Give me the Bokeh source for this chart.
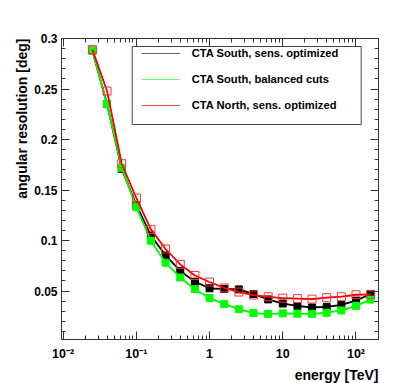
from bokeh.plotting import figure
from bokeh.models import (Range1d, FixedTicker, LogAxis, LinearAxis, Title,
                          Legend, LegendItem, BoxAnnotation)
from bokeh.embed import file_html
from bokeh.resources import INLINE

# ---- data ----
energy = [0.0251, 0.0398, 0.0631, 0.1, 0.158, 0.251, 0.398, 0.631, 1.0, 1.585,
          2.512, 3.98, 6.31, 10.0, 15.85, 25.1, 39.8, 63.1, 100.0, 158.5]
south_opt = [0.288, 0.235, 0.171, 0.135, 0.105, 0.0852, 0.0699, 0.0592, 0.0527, 0.052,
             0.0516, 0.047, 0.0417, 0.0376, 0.0352, 0.0337, 0.0343, 0.0363, 0.0405, 0.047]
south_bal = [0.288, 0.235, 0.172, 0.133, 0.0997, 0.078, 0.0634, 0.0518, 0.043, 0.0372,
             0.032, 0.0282, 0.0272, 0.0279, 0.0276, 0.0274, 0.0285, 0.0308, 0.0353, 0.0415]
north_opt = [0.289, 0.248, 0.176, 0.142, 0.111, 0.0916, 0.0764, 0.0654, 0.0589, 0.053,
             0.049, 0.046, 0.0443, 0.043, 0.0425, 0.042, 0.0434, 0.0444, 0.0463, 0.0467]
legend_labels = ["CTA South, sens. optimized", "CTA South, balanced cuts",
                 "CTA North, sens. optimized"]
x_ticks = [0.01, 0.1, 1, 10, 100]
x_tick_labels = ["10\u207b\u00b2", "10\u207b\u00b9", "1", "10", "10\u00b2"]
y_ticks = [0.05, 0.1, 0.15, 0.2, 0.25, 0.3]
y_tick_labels = ["0.05", "0.1", "0.15", "0.2", "0.25", "0.3"]
x_title = "energy [TeV]"
y_title = "angular resolution [deg]"

FONT = "Liberation Sans"
AX = "#333333"
XMIN, XMAX = 0.0095, 203
YMIN, YMAX = 0.002, 0.3

p = figure(width=400, height=383, x_axis_type="log",
           x_range=Range1d(XMIN, XMAX), y_range=Range1d(YMIN, YMAX),
           output_backend="svg", toolbar_location=None,
           min_border_left=61, min_border_right=22,
           min_border_top=38, min_border_bottom=38)
p.grid.visible = False
p.outline_line_color = AX
p.background_fill_color = "white"
p.border_fill_color = "white"

x_minor = [m * d for d in x_ticks for m in range(2, 10)]
y_minor = [i / 100 for i in range(1, 30)]

def style_axis(ax):
    ax.axis_line_color = AX
    ax.major_tick_line_color = AX
    ax.minor_tick_line_color = AX
    ax.major_tick_out = 0
    ax.minor_tick_out = 0
    ax.major_tick_in = 8
    ax.minor_tick_in = 4
    ax.major_label_text_font = FONT
    ax.major_label_text_font_style = "bold"
    ax.major_label_text_font_size = "12px"
    ax.major_label_text_color = "black"

xa = p.xaxis[0]
xa.ticker = FixedTicker(ticks=x_ticks, minor_ticks=x_minor)
style_axis(xa)
xa.major_label_text_font_size = "12.5px"
xa.major_label_standoff = 7
xa.major_label_overrides = {t: s for t, s in zip(x_ticks, x_tick_labels)}
ya = p.yaxis[0]
ya.ticker = FixedTicker(ticks=y_ticks, minor_ticks=y_minor)
style_axis(ya)
ya.major_label_standoff = 4
ya.major_label_overrides = {t: s for t, s in zip(y_ticks, y_tick_labels)}

top = LogAxis(ticker=FixedTicker(ticks=x_ticks, minor_ticks=x_minor))
style_axis(top)
top.major_label_overrides = {t: "" for t in x_ticks}
top.major_label_standoff = 0
p.add_layout(top, "above")
right = LinearAxis(ticker=FixedTicker(ticks=y_ticks, minor_ticks=y_minor))
style_axis(right)
right.major_label_overrides = {t: "" for t in y_ticks}
right.major_label_standoff = 0
p.add_layout(right, "right")

# axis titles (ROOT style: aligned to the axis end)
p.add_layout(Title(text=x_title, align="right", text_font=FONT,
                   text_font_style="bold", text_font_size="14px",
                   text_color="black", standoff=2), "below")
p.add_layout(Title(text=y_title, align="right", text_font=FONT,
                   text_font_style="bold", text_font_size="14px",
                   text_color="black", standoff=4), "left")

# legend line samples (thin, hidden beneath the data lines)
lr1 = p.line(energy, south_opt, line_color="#666666", line_width=1)
lr2 = p.line(energy, south_bal, line_color="#66ff66", line_width=1.2)
lr3 = p.line(energy, north_opt, line_color="#ff4444", line_width=1)

# data
p.line(energy, south_opt, line_color="black", line_width=1.8)
p.scatter(energy, south_opt, marker="square", size=7, fill_color="black",
          line_color="black")
p.line(energy, south_bal, line_color="#00ff00", line_width=1.8)
p.scatter(energy, south_bal, marker="square", size=7, fill_color="#00ff00",
          line_color="#00ff00")
p.line(energy, north_opt, line_color="#ff0000", line_width=1.8)
p.scatter(energy, north_opt, marker="square", size=8, fill_color=None,
          line_color="#ff3333", line_width=1)

# legend
box = BoxAnnotation(left=131.7, right=360.7, top=46, bottom=124,
                    left_units="canvas", right_units="canvas",
                    top_units="canvas", bottom_units="canvas",
                    fill_color="white", fill_alpha=1.0,
                    line_color="#444444", line_width=1, line_alpha=1.0)
p.add_layout(box)
legend = Legend(items=[LegendItem(label=legend_labels[0], renderers=[lr1]),
                       LegendItem(label=legend_labels[1], renderers=[lr2]),
                       LegendItem(label=legend_labels[2], renderers=[lr3])],
                location=(79.7, 221), padding=0, spacing=0, margin=0,
                glyph_width=39, glyph_height=26, label_height=26,
                label_standoff=12, border_line_alpha=0,
                background_fill_alpha=0,
                label_text_font=FONT, label_text_font_style="bold",
                label_text_font_size="11.2px", label_text_color="black")
p.add_layout(legend)

open("out.html", "w").write(file_html(p, INLINE))
